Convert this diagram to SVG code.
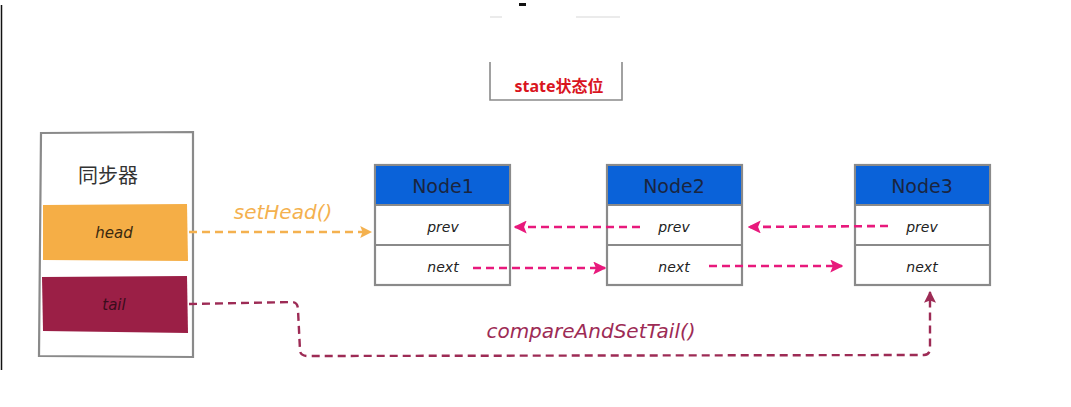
<svg xmlns="http://www.w3.org/2000/svg" width="1071" height="407" viewBox="0 0 1071 407">
  <defs>
    <style>
      .box { fill: #fff; stroke: #8a8a8a; stroke-width: 2.2; }
      .hdr { fill: #0a62d9; }
      .hand { font-family: "DejaVu Sans", "Noto Sans", sans-serif; font-style: italic; }
      .ntitle { font-family: "DejaVu Sans", "Noto Sans", sans-serif; font-size: 19px; fill: #1a2540; }
      .field { font-size: 14px; fill: #222; }
      .pink { stroke: #e8197c; stroke-width: 2.6; stroke-dasharray: 8 5; fill: none; }
      .orange { stroke: #f4b14f; stroke-width: 2.4; stroke-dasharray: 8 5; fill: none; }
      .crimson { stroke: #9d2b55; stroke-width: 2.4; stroke-dasharray: 8 5; fill: none; }
    </style>
    <marker id="arrPink" viewBox="0 0 10 10" refX="9" refY="5" markerWidth="5" markerHeight="5" orient="auto" markerUnits="strokeWidth">
      <path d="M0,0 L10,5 L0,10 L2,5 z" fill="#e8197c"/>
    </marker>
    <marker id="arrOrange" viewBox="0 0 10 10" refX="9" refY="5" markerWidth="5" markerHeight="5" orient="auto" markerUnits="strokeWidth">
      <path d="M0,0 L10,5 L0,10 L2,5 z" fill="#f4b14f"/>
    </marker>
    <marker id="arrCrimson" viewBox="0 0 10 10" refX="9" refY="5" markerWidth="5" markerHeight="5" orient="auto" markerUnits="strokeWidth">
      <path d="M0,0 L10,5 L0,10 L2,5 z" fill="#9d2b55"/>
    </marker>
  </defs>

  <rect width="1071" height="407" fill="#fff"/>

  <!-- frame edge marks -->
  <line x1="1.5" y1="5" x2="1.5" y2="370" stroke="#111" stroke-width="1.5"/>
  <rect x="519" y="3" width="7" height="3" fill="#111"/>
  <line x1="490" y1="17" x2="502" y2="17" stroke="#e4e4e4" stroke-width="1.5"/>
  <line x1="576" y1="17" x2="620" y2="17" stroke="#e4e4e4" stroke-width="1.5"/>

  <!-- state box -->
  <g id="state">
    <rect x="489" y="62" width="134" height="38" fill="#fff"/>
    <path d="M490,62 L490,100 L622,100 L622,62" fill="none" stroke="#8a8a8a" stroke-width="1.6"/>
    <text x="559" y="92" text-anchor="middle" font-family="'Noto Sans', 'Noto Sans CJK SC', sans-serif" font-weight="bold" font-size="16" fill="#d9141e">state状态位</text>
  </g>

  <!-- synchronizer -->
  <g id="sync">
    <path class="box" d="M41,133 L193,132 L193,357 L39,356 Z"/>
    <text x="108" y="183" text-anchor="middle" font-family="'Noto Sans CJK SC', sans-serif" font-size="20" fill="#333">同步器</text>
    <path d="M43,205 L187,204 L188,261 L43,260 Z" fill="#f5ae46"/>
    <text x="114" y="238" text-anchor="middle" class="hand" font-size="15" fill="#3a2a10">head</text>
    <path d="M42,277 L187,276 L188,333 L43,331 Z" fill="#9b1f46"/>
    <text x="114" y="310" text-anchor="middle" class="hand" font-size="15" fill="#3a0d1c">tail</text>
  </g>

  <!-- Node1 -->
  <g id="node1">
    <rect class="box" x="375" y="165" width="135" height="120"/>
    <rect class="hdr" x="376" y="166" width="133" height="40"/>
    <line x1="375" y1="205" x2="510" y2="205" stroke="#8a8a8a" stroke-width="2"/>
    <line x1="375" y1="245" x2="510" y2="245" stroke="#8a8a8a" stroke-width="2"/>
    <text x="443" y="193" text-anchor="middle" class="ntitle">Node1</text>
    <text x="443" y="232" text-anchor="middle" class="hand field">prev</text>
    <text x="443" y="272" text-anchor="middle" class="hand field">next</text>
  </g>

  <!-- Node2 -->
  <g id="node2">
    <rect class="box" x="607" y="165" width="135" height="120"/>
    <rect class="hdr" x="608" y="166" width="133" height="40"/>
    <line x1="607" y1="205" x2="742" y2="205" stroke="#8a8a8a" stroke-width="2"/>
    <line x1="607" y1="245" x2="742" y2="245" stroke="#8a8a8a" stroke-width="2"/>
    <text x="674" y="193" text-anchor="middle" class="ntitle">Node2</text>
    <text x="674" y="232" text-anchor="middle" class="hand field">prev</text>
    <text x="674" y="272" text-anchor="middle" class="hand field">next</text>
  </g>

  <!-- Node3 -->
  <g id="node3">
    <rect class="box" x="855" y="165" width="135" height="120"/>
    <rect class="hdr" x="856" y="166" width="133" height="40"/>
    <line x1="855" y1="205" x2="990" y2="205" stroke="#8a8a8a" stroke-width="2"/>
    <line x1="855" y1="245" x2="990" y2="245" stroke="#8a8a8a" stroke-width="2"/>
    <text x="922" y="193" text-anchor="middle" class="ntitle">Node3</text>
    <text x="922" y="232" text-anchor="middle" class="hand field">prev</text>
    <text x="922" y="272" text-anchor="middle" class="hand field">next</text>
  </g>

  <!-- connectors -->
  <g id="connectors">
    <path class="orange" d="M189,232 L371,232" marker-end="url(#arrOrange)"/>
    <text x="283" y="219" text-anchor="middle" class="hand" font-size="20" fill="#f4b14f">setHead()</text>

    <path class="pink" d="M640,227 L515,227" marker-end="url(#arrPink)"/>
    <path class="pink" d="M888,226 L749,227" marker-end="url(#arrPink)"/>
    <path class="pink" d="M473,268 L605,268" marker-end="url(#arrPink)"/>
    <path class="pink" d="M709,266 L842,266" marker-end="url(#arrPink)"/>

    <path class="crimson" d="M189,304 L292,302 Q298,302 298,310 L300,350 Q300,356 308,356 L924,355 Q930,355 930,348 L930,292" marker-end="url(#arrCrimson)"/>
    <text x="591" y="338" text-anchor="middle" class="hand" font-size="20" fill="#9d2b55">compareAndSetTail()</text>
  </g>
</svg>
